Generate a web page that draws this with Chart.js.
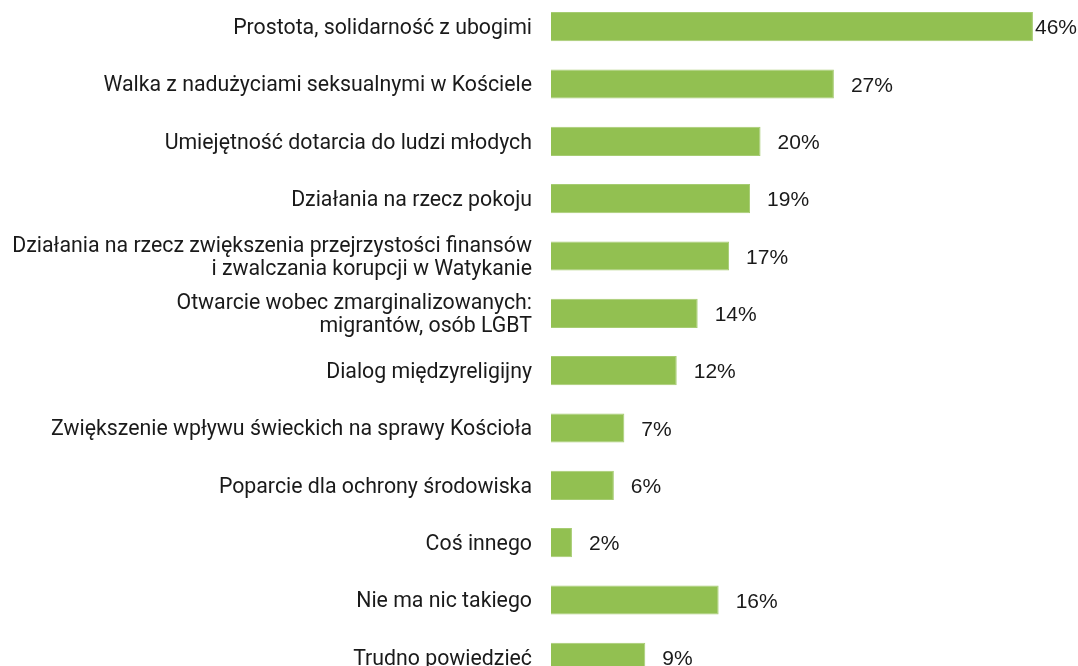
<!DOCTYPE html>
<html>
<head>
<meta charset="utf-8">
<script src="https://cdn.jsdelivr.net/npm/chart.js@4/dist/chart.umd.min.js"></script>
<style>
  html, body { margin: 0; padding: 0; background: #fff; overflow: hidden; }
  #wrap { position: absolute; left: 0; top: -2px; width: 1078px; height: 688px; }
</style>
</head>
<body>
<div id="wrap"><canvas id="chart"></canvas></div>
<script>
const categories = [
  'Prostota, solidarność z ubogimi',
  'Walka z nadużyciami seksualnymi w Kościele',
  'Umiejętność dotarcia do ludzi młodych',
  'Działania na rzecz pokoju',
  ['Działania na rzecz zwiększenia przejrzystości finansów', 'i zwalczania korupcji w Watykanie'],
  ['Otwarcie wobec zmarginalizowanych:', 'migrantów, osób LGBT'],
  'Dialog międzyreligijny',
  'Zwiększenie wpływu świeckich na sprawy Kościoła',
  'Poparcie dla ochrony środowiska',
  'Coś innego',
  'Nie ma nic takiego',
  'Trudno powiedzieć'
];
const values = [46, 27, 20, 19, 17, 14, 12, 7, 6, 2, 16, 9];

// value labels: 16px right of the bar end, pushed back inside the canvas if needed
const valueLabels = {
  id: 'valueLabels',
  afterDatasetsDraw(chart) {
    const { ctx, width } = chart;
    const meta = chart.getDatasetMeta(0);
    ctx.save();
    ctx.font = '21px "Liberation Sans", Arial, sans-serif';
    ctx.fillStyle = '#1a1a1a';
    ctx.textBaseline = 'middle';
    meta.data.forEach((bar, i) => {
      const txt = values[i] + '%';
      const w = ctx.measureText(txt).width;
      let x = bar.x + 17;
      if (x + w > width) x = bar.x + 2;
      ctx.fillText(txt, x, bar.y + 2);
    });
    ctx.restore();
  }
};

new Chart(document.getElementById('chart'), {
  type: 'bar',
  data: {
    labels: categories,
    datasets: [{
      data: values,
      backgroundColor: '#92c051',
      borderColor: '#a6cc72',
      borderWidth: 1,
      categoryPercentage: 1,
      barPercentage: 0.51
    }]
  },
  options: {
    indexAxis: 'y',
    responsive: true,
    maintainAspectRatio: false,
    animation: false,
    layout: { padding: 0 },
    plugins: {
      legend: { display: false },
      tooltip: { enabled: false }
    },
    scales: {
      x: {
        display: false,
        min: 0,
        max: 50.3
      },
      y: {
        grid: { display: false, drawTicks: false },
        border: { display: false },
        afterFit(scale) {
          scale.width = 551;
          scale.paddingTop = 0;
          scale.paddingBottom = 0;
        },
        ticks: {
          padding: 19,
          labelOffset: 2,
          color: '#1a1a1a',
          font: { family: 'Roboto', size: 21.3, lineHeight: 1.05 }
        }
      }
    }
  },
  plugins: [valueLabels]
});
</script>
</body>
</html>
